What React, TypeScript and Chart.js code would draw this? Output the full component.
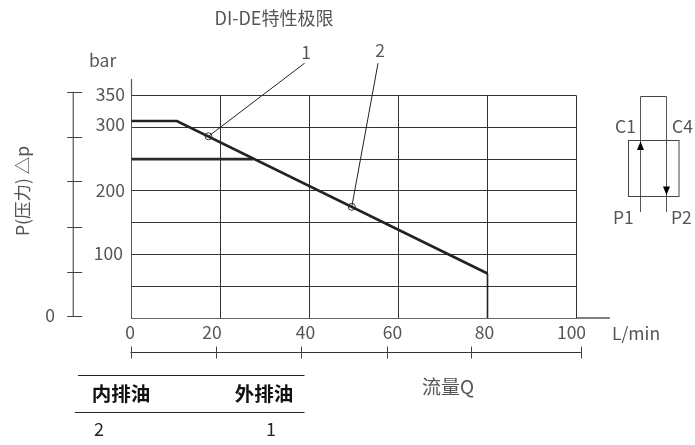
import React, { useEffect, useRef } from "react";
import { Chart, registerables } from "chart.js";

Chart.register(...registerables);

const chartTitle = "DI-DE特性极限";
const xTicks = [0, 20, 40, 60, 80, 100];
const yTicks = [0, 50, 100, 150, 200, 250, 300, 350];
const yLabelled = [100, 200, 300, 350];

const limitX = [0, 10.2, 80, 80];
const limitY = [310, 310, 70, 0];
const internalX = [0, 27.4];
const internalY = [250, 250];
const markerX = [17.3, 49.5];
const markerY = [286, 175];
const leader1X = [17.3, 38.9];
const leader1Y = [286, 401];
const leader2X = [49.5, 55.4];
const leader2Y = [175, 401];

const rulerYTicks = [356, 285, 215, 143, 72.4, 2.4];
const rulerXTicks = [-0.2, 19.1, 38, 57.4, 76.3, 101];
const tableHead = ["内排油", "外排油"];
const tableRow = ["2", "1"];

const FONT = '"Noto Sans CJK SC", "Noto Sans", sans-serif';
const TEXT = "#555";
const LINE = "#333";
const SIZE = 17.5;

const pts = (xs: number[], ys: number[]) => xs.map((x, i) => ({ x, y: ys[i] }));

const nudge = (scale: any, area: any, dx: number[], dy: number[]) => {
  scale.getLabelItems(area).forEach((item: any, i: number) => {
    if (item.__nudged) return;
    item.__nudged = true;
    item.options.translation[0] += dx[i] || 0;
    item.options.translation[1] += dy[i] || 0;
  });
};

const decor = {
  id: "decor",
  afterLayout(chart: any) {
    if (chart.titleBlock) {
      chart.titleBlock.left = 0;
      chart.titleBlock.right = 548;
    }
  },
  beforeDraw(chart: any) {
    nudge(chart.scales.x, chart.chartArea, [-1.5, -8.5, -4, -6, -3, -5], []);
    nudge(chart.scales.y, chart.chartArea, [0, 0, -2, 0, 0, 0, 0, 0], [0, 0, -1, 0, -1, 0, -3, -1.5]);
  },
  afterDraw(chart: any) {
    const { ctx, scales } = chart;
    const sx = scales.x;
    const sy = scales.y;
    const x0 = sx.getPixelForValue(0);
    const y0 = sy.getPixelForValue(0);
    const seg = (a: number, b: number, c: number, d: number, col = LINE, w = 1) => {
      ctx.strokeStyle = col;
      ctx.lineWidth = w;
      ctx.beginPath();
      ctx.moveTo(a, b);
      ctx.lineTo(c, d);
      ctx.stroke();
    };
    const txt = (s: string, x: number, y: number, align: CanvasTextAlign = "left", font = `${SIZE}px ${FONT}`, col = TEXT) => {
      ctx.font = font;
      ctx.fillStyle = col;
      ctx.textAlign = align;
      ctx.textBaseline = "middle";
      ctx.fillText(s, x, y);
    };
    ctx.save();
    // axis overhangs
    seg(x0, sy.getPixelForValue(350), x0, sy.getPixelForValue(376), "#555", 1.2);
    seg(sx.getPixelForValue(100), y0, sx.getPixelForValue(107.5), y0, "#555", 1.4);
    // left ruler
    const rx = sx.getPixelForValue(-13.1);
    seg(rx, sy.getPixelForValue(rulerYTicks[0]), rx, sy.getPixelForValue(rulerYTicks[5]));
    rulerYTicks.forEach((v) => {
      const p = Math.round(sy.getPixelForValue(v)) + 0.5;
      seg(rx - 6, p, rx + 9, p, "#444");
    });
    // bottom ruler
    const ry = Math.round(sy.getPixelForValue(-53.5)) + 0.5;
    seg(sx.getPixelForValue(rulerXTicks[0]), ry, sx.getPixelForValue(rulerXTicks[5]), ry);
    rulerXTicks.forEach((v) => {
      const p = Math.round(sx.getPixelForValue(v)) + 0.5;
      seg(p, ry - 6, p, ry + 6, "#444");
    });
    // texts
    txt("0", 50, 315, "center");
    txt("bar", 89, 60);
    txt("1", 306, 52, "center");
    txt("2", 380, 50, "center");
    txt("L/min", 612, 333);
    txt("流量Q", 448, 387, "center", `19px ${FONT}`);
    txt("C1", 615, 126);
    txt("C4", 672, 126);
    txt("P1", 613, 217);
    txt("P2", 671, 217);
    // y axis name
    ctx.save();
    ctx.translate(22, 191);
    ctx.rotate(-Math.PI / 2);
    txt("P(压力) △p", 0, 0, "center");
    ctx.restore();
    // table
    seg(78, 375.5, 304.5, 375.5, "#222");
    seg(75, 412.5, 304.5, 412.5, "#222");
    txt(tableHead[0], 121, 394, "center", `bold 19.5px ${FONT}`, "#111");
    txt(tableHead[1], 264, 394, "center", `bold 19.5px ${FONT}`, "#111");
    txt(tableRow[0], 99, 429, "center", `18px ${FONT}`, "#222");
    txt(tableRow[1], 271, 429, "center", `18px ${FONT}`, "#222");
    // valve symbol
    seg(640.5, 96.5, 640.5, 212, "#555");
    seg(666.5, 96.5, 666.5, 212, "#555");
    seg(640.5, 96.5, 666.5, 96.5, "#444");
    ctx.strokeStyle = "#444";
    ctx.lineWidth = 1;
    ctx.strokeRect(628.5, 140.5, 50.5, 56);
    ctx.fillStyle = "#000";
    ctx.beginPath();
    ctx.moveTo(640.5, 141.5);
    ctx.lineTo(644, 150);
    ctx.lineTo(637, 150);
    ctx.closePath();
    ctx.fill();
    ctx.beginPath();
    ctx.moveTo(666.5, 195);
    ctx.lineTo(670, 186.5);
    ctx.lineTo(663, 186.5);
    ctx.closePath();
    ctx.fill();
    ctx.restore();
  },
};

export default function App() {
  const ref = useRef<HTMLCanvasElement>(null);
  useEffect(() => {
    const chart = new Chart(ref.current!, {
      type: "scatter",
      data: {
        datasets: [
          {
            label: "外排油 1",
            data: pts(limitX, limitY),
            showLine: true,
            borderColor: "#222",
            borderWidth: 2.6,
            pointRadius: 0,
            clip: false,
            segment: { borderWidth: (c: any) => (c.p0DataIndex === 2 ? 1.6 : undefined) },
          },
          { label: "内排油 2", data: pts(internalX, internalY), showLine: true, borderColor: "#2a2a2a", borderWidth: 2.6, pointRadius: 0, clip: false },
          { label: "leader 1", data: pts(leader1X, leader1Y), showLine: true, borderColor: "#222", borderWidth: 1, pointRadius: 0, clip: false },
          { label: "leader 2", data: pts(leader2X, leader2Y), showLine: true, borderColor: "#222", borderWidth: 1, pointRadius: 0, clip: false },
          { label: "markers", data: pts(markerX, markerY), showLine: false, borderColor: "#333", backgroundColor: "transparent", borderWidth: 1, pointRadius: 3.5, clip: false },
        ],
      } as any,
      options: {
        responsive: false,
        animation: false,
        layout: { padding: { top: 0, left: 0, right: 118.5, bottom: 0 } },
        plugins: {
          legend: { display: false },
          tooltip: { enabled: false },
          title: {
            display: true,
            text: chartTitle,
            color: TEXT,
            font: { family: FONT, size: 18, weight: "normal" },
            padding: { top: 7, bottom: 67 },
          },
        },
        scales: {
          x: {
            type: "linear",
            min: 0,
            max: 100,
            afterBuildTicks: (s: any) => { s.ticks = xTicks.map((value) => ({ value })); },
            afterFit: (s: any) => { s.height = 127; },
            grid: { color: LINE, lineWidth: 1, drawTicks: false },
            border: { color: "#666", width: 1 },
            ticks: { color: TEXT, font: { family: FONT, size: SIZE }, padding: 4, autoSkip: false, maxRotation: 0 },
          },
          y: {
            type: "linear",
            min: 0,
            max: 350,
            afterBuildTicks: (s: any) => { s.ticks = yTicks.map((value) => ({ value })); },
            afterFit: (s: any) => { s.width = 131.5; },
            grid: { color: LINE, lineWidth: 1, drawTicks: false },
            border: { color: "#555", width: 1 },
            ticks: {
              color: TEXT,
              font: { family: FONT, size: SIZE },
              padding: 6.5,
              autoSkip: false,
              callback: (v: any) => (yLabelled.includes(Number(v)) ? String(v) : ""),
            },
          },
        },
      } as any,
      plugins: [decor],
    });
    return () => chart.destroy();
  }, []);
  return (
    <div style={{ position: "fixed", left: 0, top: 0, width: 695, height: 445, background: "#fff" }}>
      <canvas ref={ref} width={695} height={445} style={{ display: "block" }} />
    </div>
  );
}
